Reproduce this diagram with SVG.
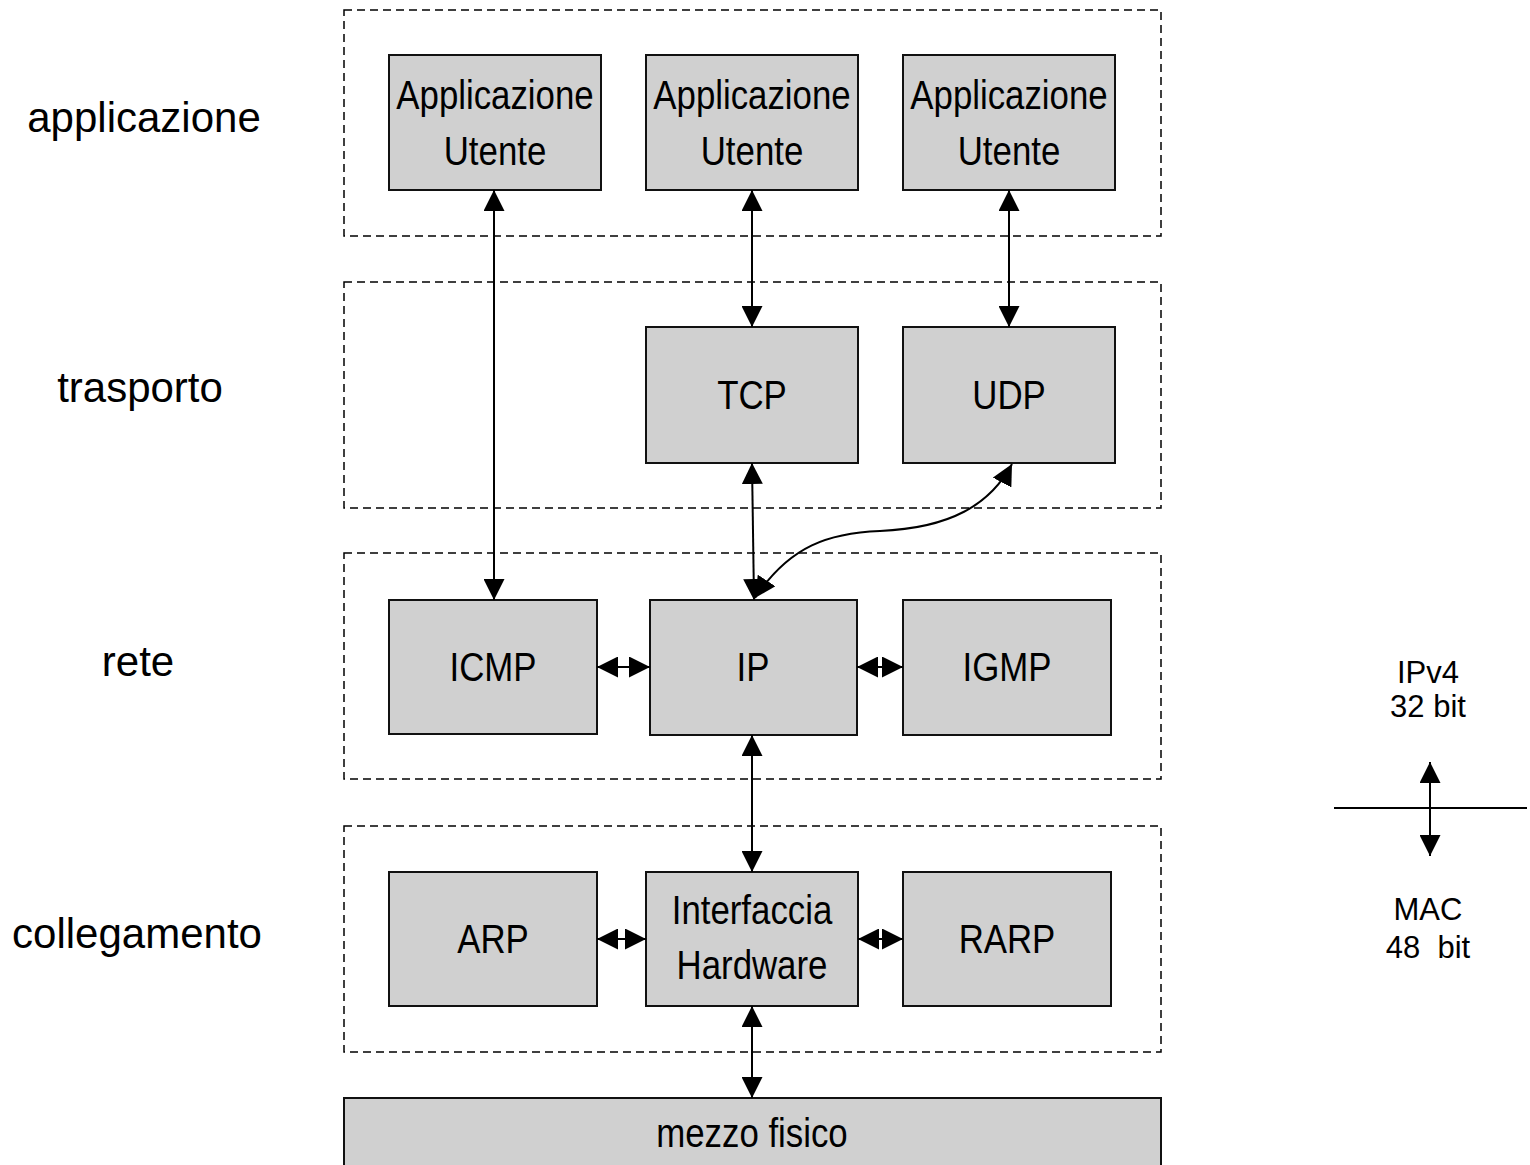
<svg xmlns="http://www.w3.org/2000/svg" width="1530" height="1165" viewBox="0 0 1530 1165">
<style>
.layer{fill:none;stroke:#000;stroke-width:1.5;stroke-dasharray:8 5}
.box{fill:#d0d0d0;stroke:#111;stroke-width:2}
.bt{font-family:"Liberation Sans",Arial,sans-serif;font-size:40px;fill:#000;text-anchor:middle}
.lab{font-family:"Liberation Sans",Arial,sans-serif;font-size:42px;fill:#000;text-anchor:middle}
.side{font-family:"Liberation Sans",Arial,sans-serif;font-size:31px;fill:#000;text-anchor:middle}
.c{fill:none;stroke:#000;stroke-width:2;marker-start:url(#ah);marker-end:url(#ah)}
</style>
<defs>
<marker id="ah" viewBox="0 0 20 20" refX="20" refY="10" markerWidth="21" markerHeight="21" markerUnits="userSpaceOnUse" orient="auto-start-reverse">
<path d="M0,0 L20,10 L0,20 z" fill="#000"/>
</marker>
</defs>
<rect width="1530" height="1165" fill="#fff"/>
<g id="layers">
<rect class="layer" x="344" y="10" width="817" height="226"/>
<rect class="layer" x="344" y="282" width="817" height="226"/>
<rect class="layer" x="344" y="553" width="817" height="226"/>
<rect class="layer" x="344" y="826" width="817" height="226"/>
</g>
<g id="labels">
<text class="lab" x="144" y="132">applicazione</text>
<text class="lab" x="140" y="402">trasporto</text>
<text class="lab" x="138" y="676">rete</text>
<text class="lab" x="137" y="948">collegamento</text>
</g>
<g id="app1"><rect class="box" x="389" y="55" width="212" height="135"/>
<text class="bt" transform="translate(495,109) scale(0.87,1)">Applicazione</text>
<text class="bt" transform="translate(495,165) scale(0.87,1)">Utente</text></g>
<g id="app2"><rect class="box" x="646" y="55" width="212" height="135"/>
<text class="bt" transform="translate(752,109) scale(0.87,1)">Applicazione</text>
<text class="bt" transform="translate(752,165) scale(0.87,1)">Utente</text></g>
<g id="app3"><rect class="box" x="903" y="55" width="212" height="135"/>
<text class="bt" transform="translate(1009,109) scale(0.87,1)">Applicazione</text>
<text class="bt" transform="translate(1009,165) scale(0.87,1)">Utente</text></g>
<g id="tcp"><rect class="box" x="646" y="327" width="212" height="136"/>
<text class="bt" transform="translate(752,409) scale(0.87,1)">TCP</text></g>
<g id="udp"><rect class="box" x="903" y="327" width="212" height="136"/>
<text class="bt" transform="translate(1009,409) scale(0.87,1)">UDP</text></g>
<g id="icmp"><rect class="box" x="389" y="600" width="208" height="134"/>
<text class="bt" transform="translate(493,681) scale(0.87,1)">ICMP</text></g>
<g id="ip"><rect class="box" x="650" y="600" width="207" height="135"/>
<text class="bt" transform="translate(753,681) scale(0.87,1)">IP</text></g>
<g id="igmp"><rect class="box" x="903" y="600" width="208" height="135"/>
<text class="bt" transform="translate(1007,681) scale(0.87,1)">IGMP</text></g>
<g id="arp"><rect class="box" x="389" y="872" width="208" height="134"/>
<text class="bt" transform="translate(493,953) scale(0.87,1)">ARP</text></g>
<g id="hw"><rect class="box" x="646" y="872" width="212" height="134"/>
<text class="bt" transform="translate(752,924) scale(0.87,1)">Interfaccia</text>
<text class="bt" transform="translate(752,979) scale(0.87,1)">Hardware</text></g>
<g id="rarp"><rect class="box" x="903" y="872" width="208" height="134"/>
<text class="bt" transform="translate(1007,953) scale(0.87,1)">RARP</text></g>
<g id="mezzo"><rect class="box" x="344" y="1098" width="817" height="90"/>
<text class="bt" transform="translate(752,1147) scale(0.87,1)">mezzo fisico</text></g>
<g id="connectors">
<line class="c" x1="494" y1="190" x2="494" y2="600"/>
<line class="c" x1="752" y1="190" x2="752" y2="327"/>
<line class="c" x1="1009" y1="190" x2="1009" y2="327"/>
<line class="c" x1="752" y1="463" x2="754" y2="600"/>
<path class="c" d="M755,598 C790,545 830,533 880,531 C950,528 990,505 1012,464"/>
<line class="c" x1="597" y1="667" x2="650" y2="667"/>
<line class="c" x1="857" y1="667" x2="903" y2="667"/>
<line class="c" x1="752" y1="735" x2="752" y2="872"/>
<line class="c" x1="597" y1="939" x2="646" y2="939"/>
<line class="c" x1="858" y1="939" x2="903" y2="939"/>
<line class="c" x1="752" y1="1006" x2="752" y2="1098"/>
</g>
<g id="addr">
<text class="side" x="1428" y="683">IPv4</text>
<text class="side" x="1428" y="717">32 bit</text>
<line x1="1334" y1="808" x2="1527" y2="808" stroke="#000" stroke-width="2"/>
<line class="c" x1="1430" y1="762" x2="1430" y2="856"/>
<text class="side" x="1428" y="920">MAC</text>
<text class="side" x="1428" y="958" xml:space="preserve">48  bit</text>
</g>
</svg>
